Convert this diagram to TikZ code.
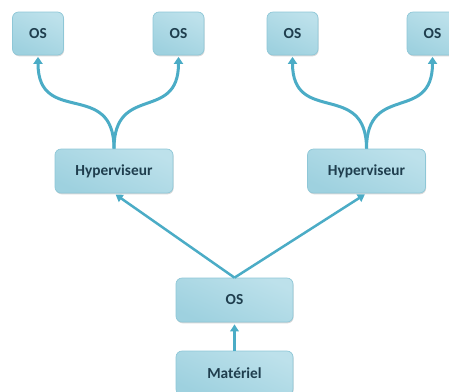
\documentclass[tikz,border=0pt]{standalone}
\usepackage{fontspec}
\setmainfont{Carlito}
\usetikzlibrary{arrows.meta,shadows}
\definecolor{fleche}{HTML}{4BACC6}
\definecolor{bord}{HTML}{8EC7D7}
\definecolor{hautbox}{HTML}{BDE1EB}
\definecolor{milieubox}{HTML}{DFF1F6}
\definecolor{basbox}{HTML}{9ED1DF}
\definecolor{texte}{HTML}{1F3E4E}
\begin{document}
\begin{tikzpicture}[x=1bp,y=-1bp,
boite/.style={draw=bord, line width=.7bp, rounded corners=6bp,
  top color=hautbox, middle color=milieubox, bottom color=basbox, shading angle=-25,
  drop shadow={shadow xshift=.6bp, shadow yshift=-1.3bp, opacity=.25, fill=black!60},
  text=texte, font=\bfseries\fontsize{15.4}{18}\selectfont, inner sep=0pt},
petit/.style={boite, minimum width=51bp, minimum height=43bp},
grand/.style={boite, minimum width=118bp, minimum height=44bp},
courbe/.style={draw=fleche, line width=3bp, looseness=1.5, -{Triangle[width=9bp,length=7bp]}},
droite/.style={draw=fleche, line width=2.5bp, -{Triangle[width=8.5bp,length=7bp]}, shorten >=2bp}]
\useasboundingbox (0,0) rectangle (449,391);

\node (0) at (38,33.5) [petit] {OS};
\node (1) at (178.5,33.5) [petit] {OS};
\node (2) at (292.5,33.5) [petit] {OS};
\node (3) at (432.5,33.5) [petit] {OS};
\node (h1) at (114,171) [grand] {Hyperviseur};
\node (h2) at (366.5,171) [grand] {Hyperviseur};
\node (os) at (234.5,300) [grand, minimum width=117bp] {OS};
\node (hw) at (234.5,373) [grand, minimum width=117bp] {Matériel};

\draw[courbe] (h1.north) to[out=90,in=-90] ([yshift=-1.5bp]0.south);
\draw[courbe] (h1.north) to[out=90,in=-90] ([yshift=-1.5bp]1.south);
\draw[courbe] (h2.north) to[out=90,in=-90] ([yshift=-1.5bp]2.south);
\draw[courbe] (h2.north) to[out=90,in=-90] ([yshift=-1.5bp]3.south);

\draw[droite] (os.north) to (h1.south);
\draw[droite] (os.north) to (h2.south);
\draw[droite] (hw.north) to (os.south);
\end{tikzpicture}
\end{document}
